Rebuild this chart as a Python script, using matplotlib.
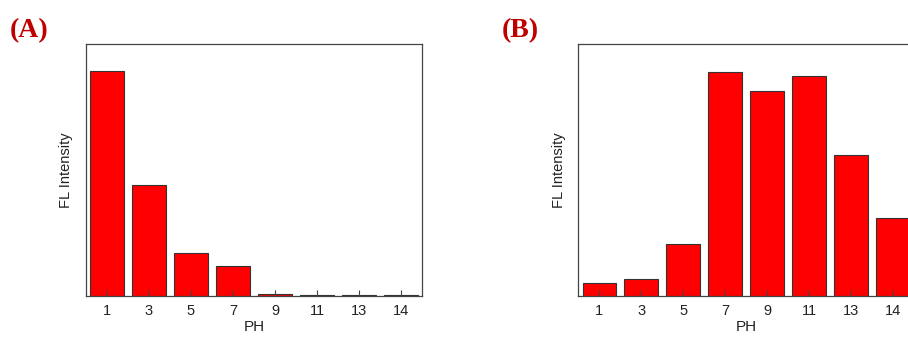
import matplotlib
matplotlib.use('Agg')
import matplotlib.pyplot as plt

ph_labels = ['1', '3', '5', '7', '9', '11', '13', '14']
fl_a = [0.895, 0.439, 0.171, 0.118, 0.006, 0.004, 0.004, 0.004]
fl_b = [0.053, 0.068, 0.208, 0.891, 0.814, 0.873, 0.558, 0.310]

plt.rcParams['font.family'] = ['Liberation Sans', 'DejaVu Sans']

fig = plt.figure(figsize=(9.08, 3.38), dpi=100)

ax1 = fig.add_axes([0.0947, 0.1243, 0.370, 0.745])
ax2 = fig.add_axes([0.6369, 0.1243, 0.370, 0.745])


def draw_panel(ax, values):
    x = range(len(values))
    ax.bar(x, values, width=0.8, color='#ff0000', edgecolor='#333333', linewidth=0.8)
    ax.set_xlim(-0.5, len(values) - 0.5)
    ax.set_ylim(0, 1)
    ax.set_xticks(list(x))
    ax.set_xticklabels(ph_labels, fontsize=10.5, color='#222222')
    ax.tick_params(axis='x', direction='in', length=4, width=0.8, color='#444444', pad=6)
    ax.set_yticks([])
    ax.set_xlabel('PH', fontsize=11, color='#222222', labelpad=1)
    ax.set_ylabel('FL Intensity', fontsize=10.5, color='#222222', labelpad=9)
    for s in ax.spines.values():
        s.set_color('#444444')
        s.set_linewidth(0.9)


draw_panel(ax1, fl_a)
draw_panel(ax2, fl_b)

fig.text(0.011, 0.91, '(A)', fontsize=20, fontweight='bold', color='#c00000',
         family='Liberation Serif', va='center', ha='left')
fig.text(0.553, 0.91, '(B)', fontsize=20, fontweight='bold', color='#c00000',
         family='Liberation Serif', va='center', ha='left')

fig.savefig('out.png', dpi=100)
